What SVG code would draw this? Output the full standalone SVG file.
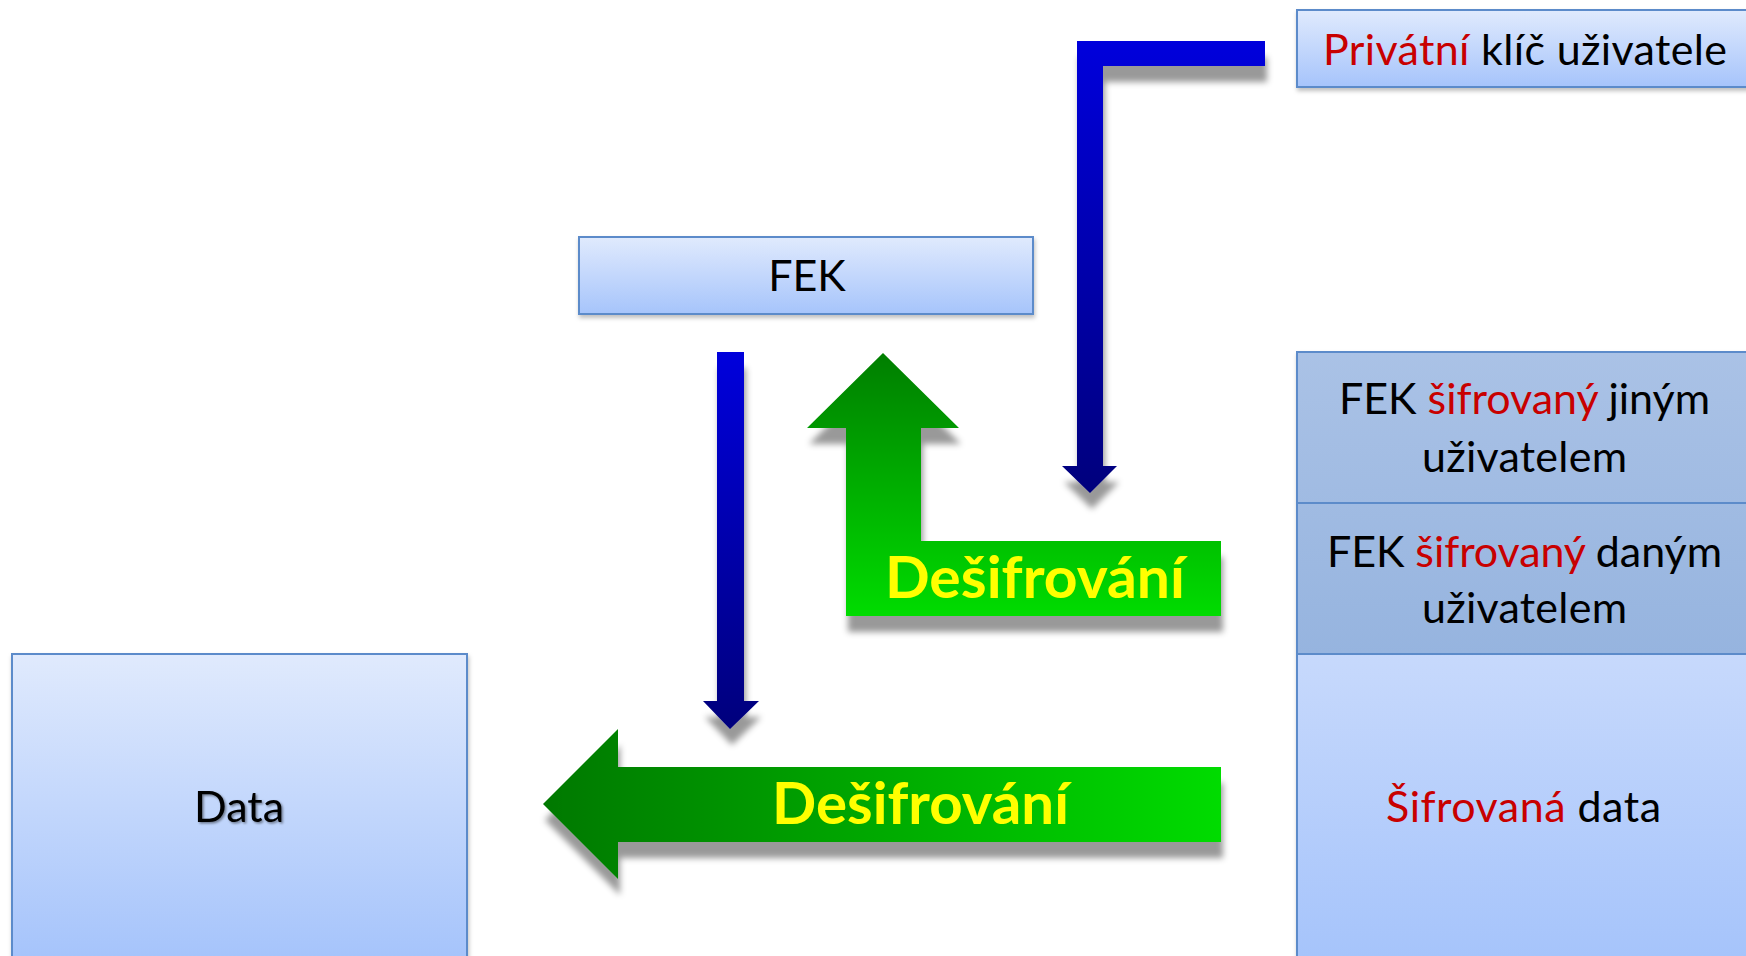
<svg xmlns="http://www.w3.org/2000/svg" width="1746" height="956" viewBox="0 0 1746 956">
  <defs>
    <linearGradient id="boxGrad" x1="0" y1="0" x2="0" y2="1">
      <stop offset="0" stop-color="#e0eafd"/>
      <stop offset="1" stop-color="#a6c4fb"/>
    </linearGradient>
    <linearGradient id="cellDarkGrad" gradientUnits="userSpaceOnUse" x1="0" y1="352" x2="0" y2="654">
      <stop offset="0" stop-color="#aac2e6"/>
      <stop offset="1" stop-color="#96b4df"/>
    </linearGradient>
    <linearGradient id="cellDataGrad" gradientUnits="userSpaceOnUse" x1="0" y1="654" x2="0" y2="956">
      <stop offset="0" stop-color="#c7d9fc"/>
      <stop offset="1" stop-color="#a6c4fb"/>
    </linearGradient>
    <linearGradient id="dataGrad" gradientUnits="userSpaceOnUse" x1="0" y1="654" x2="0" y2="956">
      <stop offset="0" stop-color="#e0eafd"/>
      <stop offset="1" stop-color="#a6c4fb"/>
    </linearGradient>
    <linearGradient id="blueL" gradientUnits="userSpaceOnUse" x1="0" y1="41" x2="0" y2="493">
      <stop offset="0" stop-color="#0000dc"/>
      <stop offset="1" stop-color="#00007c"/>
    </linearGradient>
    <linearGradient id="blueS" gradientUnits="userSpaceOnUse" x1="0" y1="352" x2="0" y2="729">
      <stop offset="0" stop-color="#0000dc"/>
      <stop offset="1" stop-color="#00007c"/>
    </linearGradient>
    <linearGradient id="greenUp" gradientUnits="userSpaceOnUse" x1="0" y1="353" x2="0" y2="616">
      <stop offset="0" stop-color="#007e00"/>
      <stop offset="1" stop-color="#00dc00"/>
    </linearGradient>
    <linearGradient id="greenLeft" gradientUnits="userSpaceOnUse" x1="543" y1="0" x2="1221" y2="0">
      <stop offset="0" stop-color="#007800"/>
      <stop offset="1" stop-color="#00dc00"/>
    </linearGradient>
    <filter id="arrowShadow" x="-20%" y="-20%" width="140%" height="140%">
      <feDropShadow dx="2" dy="16" stdDeviation="3" flood-color="#000" flood-opacity="0.4"/>
    </filter>
    <filter id="boxShadow" x="-10%" y="-10%" width="120%" height="130%">
      <feDropShadow dx="1" dy="3" stdDeviation="2" flood-color="#000" flood-opacity="0.25"/>
    </filter>
    <filter id="textShadow" x="-10%" y="-20%" width="130%" height="150%">
      <feDropShadow dx="1.5" dy="1.5" stdDeviation="1" flood-color="#000" flood-opacity="0.45"/>
    </filter>
  </defs>
  <style>
    .box { stroke: #5b8bca; stroke-width: 2; }
    .t { font-family: Lato, "Liberation Sans", sans-serif; font-size: 43px; fill: #000; }
    .red { fill: #c80000; }
    .lbl { font-family: Lato, "Liberation Sans", sans-serif; font-size: 57px; font-weight: bold; fill: #ffff00; }
  </style>
  <rect width="1746" height="956" fill="#ffffff"/>

  <g id="connectors">
    <path id="blue-l-arrow" d="M1265,41 L1077,41 L1077,466 L1062,466 L1090,493 L1117,466 L1103,466 L1103,66 L1265,66 Z" fill="url(#blueL)" filter="url(#arrowShadow)"/>
    <path id="blue-down-arrow" d="M717,352 L744,352 L744,701 L759,701 L730,729 L703,701 L717,701 Z" fill="url(#blueS)" filter="url(#arrowShadow)"/>
    <g id="green-up-arrow">
      <path d="M883,353 L959,428 L921,428 L921,541 L1221,541 L1221,616 L846,616 L846,428 L807,428 Z" fill="url(#greenUp)" filter="url(#arrowShadow)"/>
      <text class="lbl" x="885" y="598" textLength="300" lengthAdjust="spacingAndGlyphs">Dešifrování</text>
    </g>
    <g id="green-left-arrow">
      <path d="M543,804 L618,729 L618,767 L1221,767 L1221,842 L618,842 L618,879 Z" fill="url(#greenLeft)" filter="url(#arrowShadow)"/>
      <text class="lbl" x="772" y="824" textLength="297" lengthAdjust="spacingAndGlyphs">Dešifrování</text>
    </g>
  </g>

  <g id="private-key">
    <rect class="box" x="1297" y="10" width="470" height="77" fill="url(#boxGrad)" filter="url(#boxShadow)"/>
    <text class="t" x="1323" y="65" textLength="404" lengthAdjust="spacing"><tspan class="red">Privátní</tspan> klíč uživatele</text>
  </g>

  <g id="fek">
    <rect class="box" x="579" y="237" width="454" height="77" fill="url(#boxGrad)" filter="url(#boxShadow)"/>
    <text class="t" x="807" y="291" text-anchor="middle">FEK</text>
  </g>

  <g id="encrypted-file">
    <g filter="url(#boxShadow)">
      <rect class="box" x="1297" y="352" width="470" height="151" fill="url(#cellDarkGrad)"/>
      <rect class="box" x="1297" y="503" width="470" height="151" fill="url(#cellDarkGrad)"/>
      <rect class="box" x="1297" y="654" width="470" height="330" fill="url(#cellDataGrad)"/>
    </g>
    <text class="t" x="1339" y="414" textLength="371" lengthAdjust="spacing">FEK <tspan class="red">šifrovaný</tspan> jiným</text>
    <text class="t" x="1422" y="472" textLength="205" lengthAdjust="spacing">uživatelem</text>
    <text class="t" x="1327" y="567" textLength="395" lengthAdjust="spacing">FEK <tspan class="red">šifrovaný</tspan> daným</text>
    <text class="t" x="1422" y="623" textLength="205" lengthAdjust="spacing">uživatelem</text>
    <text class="t" x="1386" y="822" textLength="275" lengthAdjust="spacing"><tspan class="red">Šifrovaná</tspan> data</text>
  </g>

  <g id="data">
    <rect class="box" x="12" y="654" width="455" height="330" fill="url(#dataGrad)" filter="url(#boxShadow)"/>
    <text class="t" x="239" y="822" text-anchor="middle" filter="url(#textShadow)">Data</text>
  </g>
</svg>
